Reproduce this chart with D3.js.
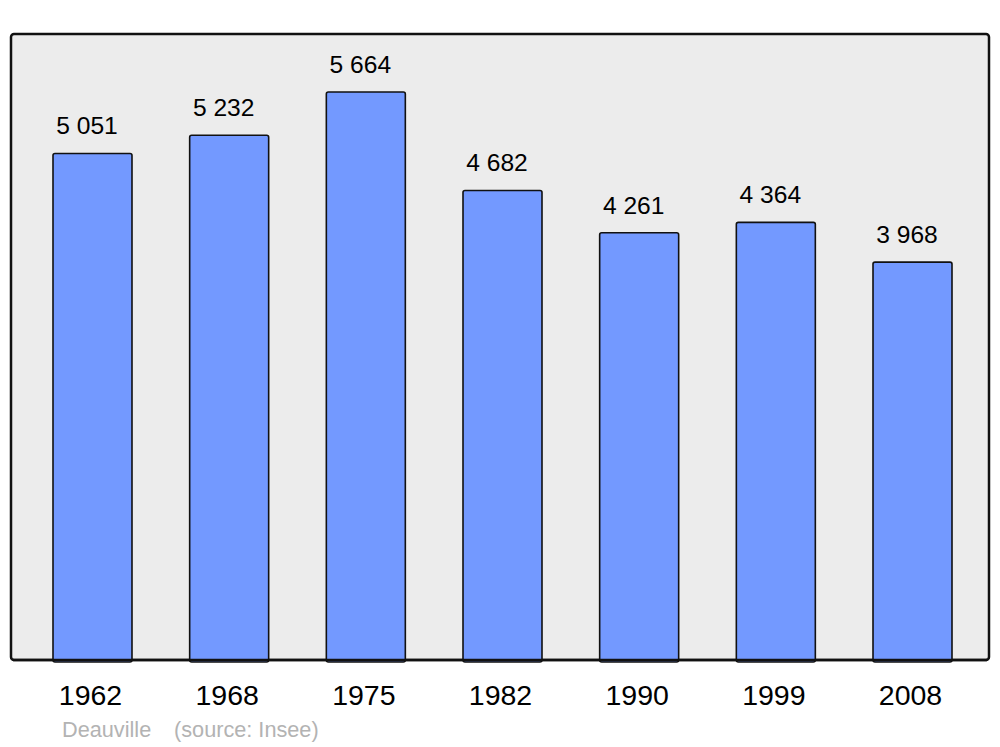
<!DOCTYPE html>
<html><head><meta charset="utf-8">
<script src="https://cdn.jsdelivr.net/npm/d3@7"></script>
<style>html,body{margin:0;padding:0;background:#fff;}svg{display:block;}</style>
</head><body>
<script>
const years = ["1962","1968","1975","1982","1990","1999","2008"];
const population = [5051, 5232, 5664, 4682, 4261, 4364, 3968];
const valueLabels = ["5 051","5 232","5 664","4 682","4 261","4 364","3 968"];
const townName = "Deauville";
const sourceText = "(source: Insee)";

const W = 1000, H = 747;
const svg = d3.select("body").append("svg").attr("width", W).attr("height", H);
const font = "'Liberation Sans', Arial, sans-serif";

svg.append("rect").attr("x", 11).attr("y", 34).attr("width", 978).attr("height", 626)
  .attr("rx", 3).attr("fill", "#ececec").attr("stroke", "#111").attr("stroke-width", 2.5);

const x = d3.scaleBand().domain(years).range([53, 952]).paddingInner(0.422).paddingOuter(0);
const y = d3.scaleLinear().domain([0, 5664]).range([660, 92]);

svg.selectAll("rect.bar").data(years).enter().append("rect").attr("class","bar")
  .attr("x", d => x(d)).attr("y", (d,i) => y(population[i]))
  .attr("width", x.bandwidth()).attr("height", (d,i) => y(0) - y(population[i]) + 2)
  .attr("rx", 2).attr("fill", "#7399ff").attr("stroke", "#111").attr("stroke-width", 1.6);

// redraw bottom of frame over bars
svg.append("line").attr("x1", 13).attr("x2", 987).attr("y1", 660).attr("y2", 660)
  .attr("stroke", "#111").attr("stroke-width", 2.5);

svg.selectAll("text.val").data(years).enter().append("text").attr("class","val")
  .attr("x", d => x(d) + x.bandwidth()/2 - 5.5).attr("y", (d,i) => y(population[i]) - 19)
  .attr("text-anchor","middle").attr("font-family", font).attr("font-size", 24.6)
  .attr("fill","#000").text((d,i) => valueLabels[i]);

const xAxis = d3.axisBottom(x).tickSize(0).tickPadding(0);
const ax = svg.append("g").attr("transform","translate(0,705)").call(xAxis);
ax.select(".domain").remove();
ax.selectAll("text").attr("dy", 0).attr("dx", -2).attr("font-family", font).attr("font-size", 28.5).attr("fill","#000");

svg.append("text").attr("x", 62).attr("y", 737).attr("font-family", font).attr("font-size", 21.7)
  .attr("fill","#b3b3b3").text(townName);
svg.append("text").attr("x", 174).attr("y", 737).attr("font-family", font).attr("font-size", 21.7)
  .attr("fill","#b3b3b3").text(sourceText);
</script>
</body></html>
